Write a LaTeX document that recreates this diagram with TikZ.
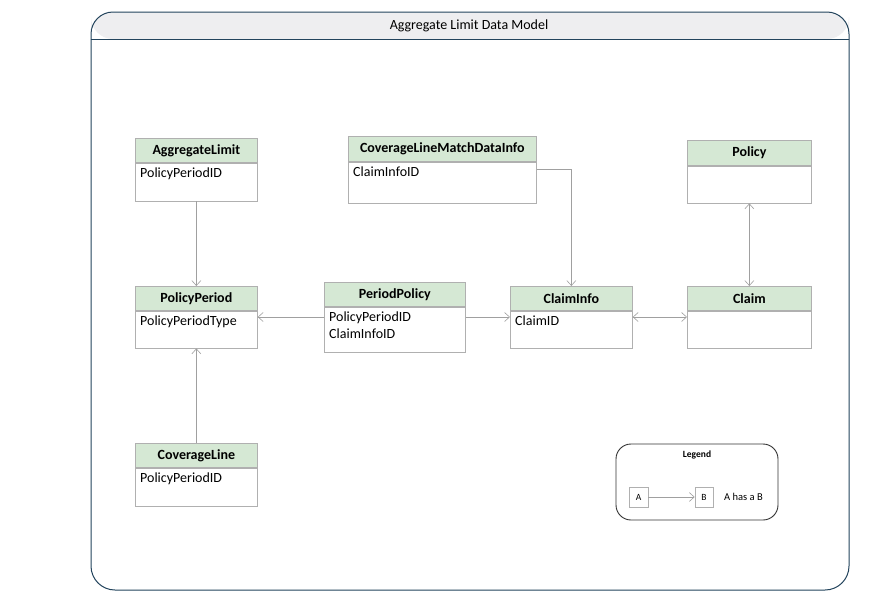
\documentclass[tikz,border=0pt]{standalone}
\usepackage{fontspec}
\setmainfont{Carlito}
\usetikzlibrary{arrows.meta,calc}
\definecolor{hdrgreen}{RGB}{213,232,212}
\definecolor{boxgrey}{RGB}{176,176,176}
\definecolor{framblue}{RGB}{35,68,93}
\definecolor{framfill}{RGB}{238,238,240}
\definecolor{lingrey}{RGB}{160,160,160}
\tikzset{
  hdr/.style={draw=boxgrey, fill=hdrgreen, minimum height=24pt, inner sep=0pt, anchor=north west, font=\fontsize{14}{16}\selectfont\bfseries, line width=0.7pt},
  bodybox/.style={draw=boxgrey, fill=white, inner sep=0pt, anchor=north, line width=0.7pt},
  bodytxt/.style={anchor=north west, inner sep=0pt, align=left, font=\fontsize{14}{17}\selectfont},
  arr/.style={draw=lingrey, line width=0.6pt, -{Straight Barb[length=5pt,width=9pt]}},
  darr/.style={draw=lingrey, line width=0.6pt, {Straight Barb[length=5pt,width=9pt]}-{Straight Barb[length=5pt,width=9pt]}},
  legbox/.style={draw=boxgrey, minimum width=19pt, minimum height=20pt, inner sep=0pt, font=\fontsize{9.5}{11}\selectfont, line width=0.6pt}
}
\begin{document}
\begin{tikzpicture}[x=1pt,y=-1pt]
\useasboundingbox[fill=white] (0,0) rectangle (875,603);
% frame
\fill[framfill, rounded corners=22pt] (91,39) -- (91,12) -- (849,12) -- (849,39) -- cycle;
\draw[framblue, line width=1pt, rounded corners=22pt] (91,39) -- (91,12) -- (849,12) -- (849,39);
\draw[framblue, line width=1pt] (91,39) -- (849,39);
\draw[framblue, line width=1pt, rounded corners=24pt] (91,39) -- (91,590) -- (849,590) -- (849,39);
\node[font=\fontsize{14}{16}\selectfont] (title) at (469,25.5) {Aggregate Limit Data Model};

% AggregateLimit
\node[hdr, minimum width=122pt] (al) at (135,138) {AggregateLimit};
\node[bodybox, minimum width=122pt, minimum height=38pt] (alb) at (al.south) {};
\node[bodytxt] (alt) at ($(alb.north west)+(5,5)$) {PolicyPeriodID};

% PolicyPeriod
\node[hdr, minimum width=122pt] (pp) at (135,286) {PolicyPeriod};
\node[bodybox, minimum width=122pt, minimum height=37pt] (ppb) at (pp.south) {};
\node[bodytxt] (ppt) at ($(ppb.north west)+(5,5)$) {PolicyPeriodType};

% CoverageLine
\node[hdr, minimum width=122pt] (cl) at (135,443) {CoverageLine};
\node[bodybox, minimum width=122pt, minimum height=38pt] (clb) at (cl.south) {};
\node[bodytxt] (clt) at ($(clb.north west)+(5,5)$) {PolicyPeriodID};

% CoverageLineMatchDataInfo
\node[hdr, minimum width=188pt, minimum height=25pt] (cm) at (348,136) {CoverageLineMatchDataInfo};
\node[bodybox, minimum width=188pt, minimum height=41pt] (cmb) at (cm.south) {};
\node[bodytxt] (cmt) at ($(cmb.north west)+(5,5)$) {ClaimInfoID};

% PeriodPolicy
\node[hdr, minimum width=141pt] (per) at (324,282) {PeriodPolicy};
\node[bodybox, minimum width=141pt, minimum height=45pt] (perb) at (per.south) {};
\node[bodytxt] (pert) at ($(perb.north west)+(5,5)$) {PolicyPeriodID\\ClaimInfoID};

% ClaimInfo
\node[hdr, minimum width=122pt] (ci) at (510,286) {ClaimInfo};
\node[bodybox, minimum width=122pt, minimum height=37pt] (cib) at (ci.south) {};
\node[bodytxt] (cit) at ($(cib.north west)+(5,5)$) {ClaimID};

% Policy
\node[hdr, minimum width=124pt, minimum height=25pt] (po) at (687,140) {Policy};
\node[bodybox, minimum width=124pt, minimum height=37pt] (pob) at (po.south) {};

% Claim
\node[hdr, minimum width=124pt] (cla) at (687,286) {Claim};
\node[bodybox, minimum width=124pt, minimum height=37pt] (clab) at (cla.south) {};

% connectors
\draw[arr] (alb.south) -- (pp.north);
\draw[arr] (cl.north) -- (ppb.south);
\draw[arr] (perb.west |- 0,317) -- (ppb.east |- 0,317);
\draw[arr] (perb.east |- 0,317) -- (cib.west |- 0,317);
\draw[arr] (cmb.east |- 0,169) -| (ci.north);
\draw[darr] (cib.east |- 0,317) -- (clab.west |- 0,317);
\draw[darr] (pob.south) -- (cla.north);

% legend
\draw[draw=black!80, line width=0.9pt, rounded corners=15pt] (616,444) rectangle (778,520);
\node[font=\fontsize{9.5}{11}\selectfont\bfseries] (legt) at (697,455) {Legend};
\node[legbox] (la) at (638.5,497) {A};
\node[legbox, minimum width=18pt] (lb) at (704,497) {B};
\draw[arr] (la.east) -- (lb.west);
\node[anchor=west, inner sep=0pt, font=\fontsize{10.5}{12}\selectfont] (lt) at (724,497) {A has a B};
\end{tikzpicture}
\end{document}
